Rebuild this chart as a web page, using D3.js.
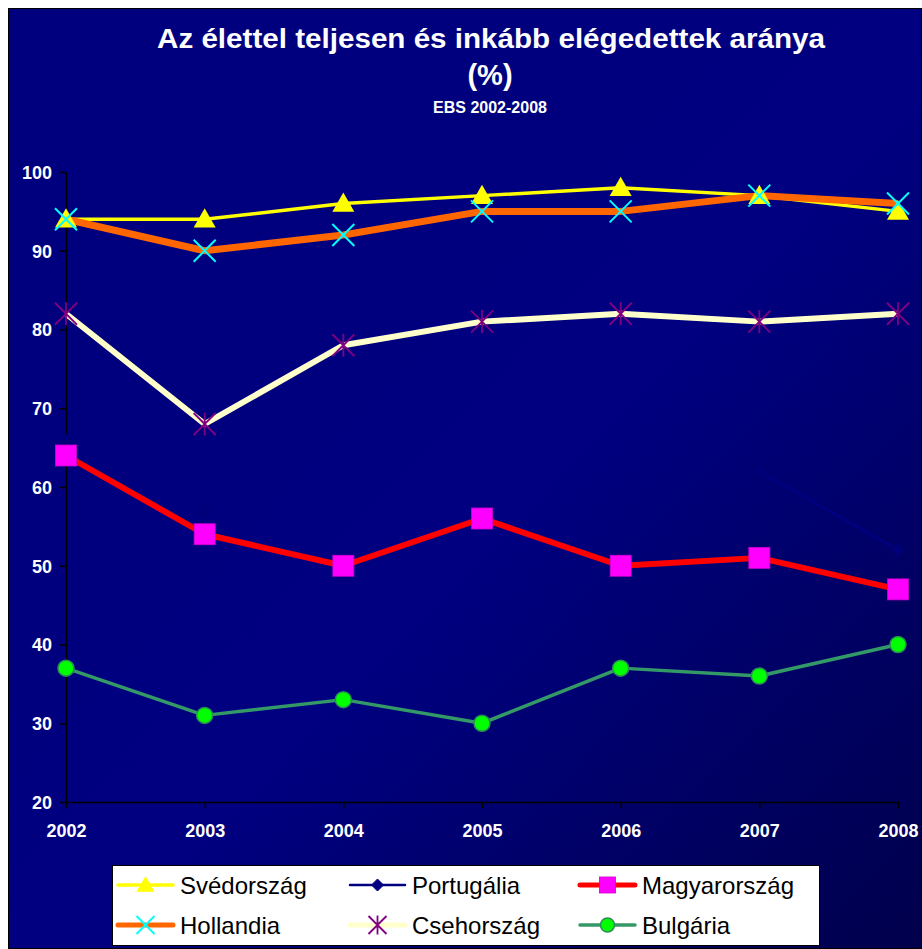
<!DOCTYPE html>
<html><head><meta charset="utf-8">
<script src="https://cdn.jsdelivr.net/npm/d3@7"></script>
<style>html,body{margin:0;padding:0;background:#fff;}svg{display:block;}</style>
</head><body>
<script>
const years = [2002, 2003, 2004, 2005, 2006, 2007, 2008];
const yTicks = [20, 30, 40, 50, 60, 70, 80, 90, 100];
const svedorszag = [94, 94, 96, 97, 98, 97, 95];
const portugalia = [66, 57, null, null, null, 62, 52];
const magyarorszag = [64, 54, 50, 56, 50, 51, 47];
const hollandia = [94, 90, 92, 95, 95, 97, 96];
const csehorszag = [82, 68, 78, 81, 82, 81, 82];
const bulgaria = [37, 31, 33, 30, 37, 36, 40];
const seriesNames = ["Svédország", "Portugália", "Magyarország", "Hollandia", "Csehország", "Bulgária"];

const W = 922, H = 949;
const svg = d3.select("body").append("svg").attr("width", W).attr("height", H);
const defs = svg.append("defs");
const grad = defs.append("linearGradient").attr("id", "bg").attr("x1", "0").attr("y1", "0").attr("x2", "1").attr("y2", "1");
grad.append("stop").attr("offset", "0").attr("stop-color", "#00007e");
grad.append("stop").attr("offset", "0.55").attr("stop-color", "#000080");
grad.append("stop").attr("offset", "1").attr("stop-color", "#00004c");

svg.append("rect").attr("x", 8.5).attr("y", 8.5).attr("width", W - 9).attr("height", H - 9)
  .attr("fill", "url(#bg)").attr("stroke", "#000").attr("stroke-width", 1);

const font = "'Liberation Sans', Arial, sans-serif";
svg.append("text").attr("x", 491).attr("y", 48).attr("text-anchor", "middle")
  .attr("font-family", font).attr("font-weight", "bold").attr("font-size", 28).attr("fill", "#fff")
  .attr("textLength", 668).attr("lengthAdjust", "spacingAndGlyphs")
  .text("Az élettel teljesen és inkább elégedettek aránya");
svg.append("text").attr("x", 490).attr("y", 85).attr("text-anchor", "middle")
  .attr("font-family", font).attr("font-weight", "bold").attr("font-size", 29).attr("fill", "#fff").text("(%)");
svg.append("text").attr("x", 490).attr("y", 113).attr("text-anchor", "middle")
  .attr("font-family", font).attr("font-weight", "bold").attr("font-size", 16).attr("fill", "#fff").text("EBS 2002-2008");

const x = d3.scalePoint().domain(years).range([66, 898]);
const y = d3.scaleLinear().domain([20, 100]).range([802, 172]);

const xAxis = svg.append("g").attr("transform", "translate(0,802)")
  .call(d3.axisBottom(x).tickSize(6).tickPadding(10).tickSizeOuter(0));
const yAxis = svg.append("g").attr("transform", "translate(66,0)")
  .call(d3.axisLeft(y).tickValues(yTicks).tickSize(6).tickPadding(8).tickSizeOuter(0));
[xAxis, yAxis].forEach(a => {
  a.select(".domain").attr("stroke", "#000").attr("stroke-width", 1.5);
  a.selectAll(".tick line").attr("stroke", "#000").attr("stroke-width", 1.5);
  a.selectAll("text").attr("fill", "#fff").attr("font-family", font).attr("font-weight", "bold").attr("font-size", 18);
});
xAxis.selectAll("text").attr("dy", "1.05em");
yAxis.selectAll("text").attr("dy", "0.35em");

const series = [
  {name: seriesNames[0], vals: svedorszag, stroke: "#ffff00", sw: 3.5, marker: "tri", mfill: "#ffff00", mstroke: "#ffff00", ms: 11},
  {name: seriesNames[1], vals: portugalia, stroke: "#000080", sw: 2.5, marker: "dia", mfill: "#00007a", mstroke: "#000070", ms: 6},
  {name: seriesNames[2], vals: magyarorszag, stroke: "#ff0000", sw: 6, marker: "sq", mfill: "#ff00ff", mstroke: "#cc00cc", ms: 10.5},
  {name: seriesNames[3], vals: hollandia, stroke: "#ff6600", sw: 7, marker: "x", mfill: "none", mstroke: "#00ffff", ms: 11},
  {name: seriesNames[4], vals: csehorszag, stroke: "#ffffcc", sw: 6, marker: "star", mfill: "none", mstroke: "#800080", ms: 11},
  {name: seriesNames[5], vals: bulgaria, stroke: "#339966", sw: 3.5, marker: "circ", mfill: "#00ff00", mstroke: "#2e8b57", ms: 8}
];

function drawMarker(g, type, cx, cy, s, fill, stroke) {
  if (type === "tri") {
    g.append("path").attr("d", `M${cx},${cy - s} L${cx + s},${cy + s * 0.75} L${cx - s},${cy + s * 0.75} Z`).attr("fill", fill);
  } else if (type === "dia") {
    g.append("path").attr("d", `M${cx},${cy - s} L${cx + s},${cy} L${cx},${cy + s} L${cx - s},${cy} Z`).attr("fill", fill).attr("stroke", stroke);
  } else if (type === "sq") {
    g.append("rect").attr("x", cx - s).attr("y", cy - s).attr("width", 2 * s).attr("height", 2 * s).attr("fill", fill).attr("stroke", stroke).attr("stroke-width", 0.8);
  } else if (type === "x") {
    g.append("path").attr("d", `M${cx - s},${cy - s} L${cx + s},${cy + s} M${cx - s},${cy + s} L${cx + s},${cy - s}`).attr("stroke", stroke).attr("stroke-width", 2);
  } else if (type === "star") {
    g.append("path").attr("d", `M${cx - s},${cy - s} L${cx + s},${cy + s} M${cx - s},${cy + s} L${cx + s},${cy - s} M${cx},${cy - s * 1.05} L${cx},${cy + s * 1.05}`).attr("stroke", stroke).attr("stroke-width", 1.8);
  } else if (type === "circ") {
    g.append("circle").attr("cx", cx).attr("cy", cy).attr("r", s).attr("fill", fill).attr("stroke", stroke).attr("stroke-width", 1.5);
  }
}

const line = d3.line().defined(d => d.v !== null).x(d => x(d.year)).y(d => y(d.v));
const linesG = svg.append("g"), markG = svg.append("g");
series.forEach(s => {
  const data = years.map((yr, i) => ({year: yr, v: s.vals[i]}));
  linesG.append("path").datum(data).attr("d", line).attr("fill", "none")
    .attr("stroke", s.stroke).attr("stroke-width", s.sw).attr("stroke-linejoin", "round");
});
series.forEach(s => {
  years.forEach((yr, i) => {
    if (s.vals[i] !== null) drawMarker(markG, s.marker, x(yr), y(s.vals[i]), s.ms, s.mfill, s.mstroke);
  });
});

// Legend
const lg = svg.append("g");
lg.append("rect").attr("x", 112.5).attr("y", 865.5).attr("width", 707).attr("height", 80)
  .attr("fill", "#fff").attr("stroke", "#000").attr("stroke-width", 1);
const cols = [118, 350, 580], rows = [885, 925];
series.forEach((s, k) => {
  const cx = cols[k % 3], cy = rows[Math.floor(k / 3)];
  lg.append("line").attr("x1", cx).attr("x2", cx + 55).attr("y1", cy).attr("y2", cy)
    .attr("stroke", s.stroke).attr("stroke-width", Math.min(s.sw, 5)).attr("stroke-linecap", "round");
  const ms = s.marker === "tri" ? 9 : s.marker === "dia" ? 6 : s.marker === "sq" ? 8 : s.marker === "circ" ? 7 : 9;
  drawMarker(lg, s.marker, cx + 27.5, cy, ms, s.marker === "dia" ? "#000080" : s.mfill, s.marker === "dia" ? "#000080" : s.mstroke);
  lg.append("text").attr("x", cx + 62).attr("y", cy).attr("dy", "0.36em")
    .attr("font-family", font).attr("font-size", 24).attr("fill", "#000").text(s.name);
});
</script>
</body></html>
